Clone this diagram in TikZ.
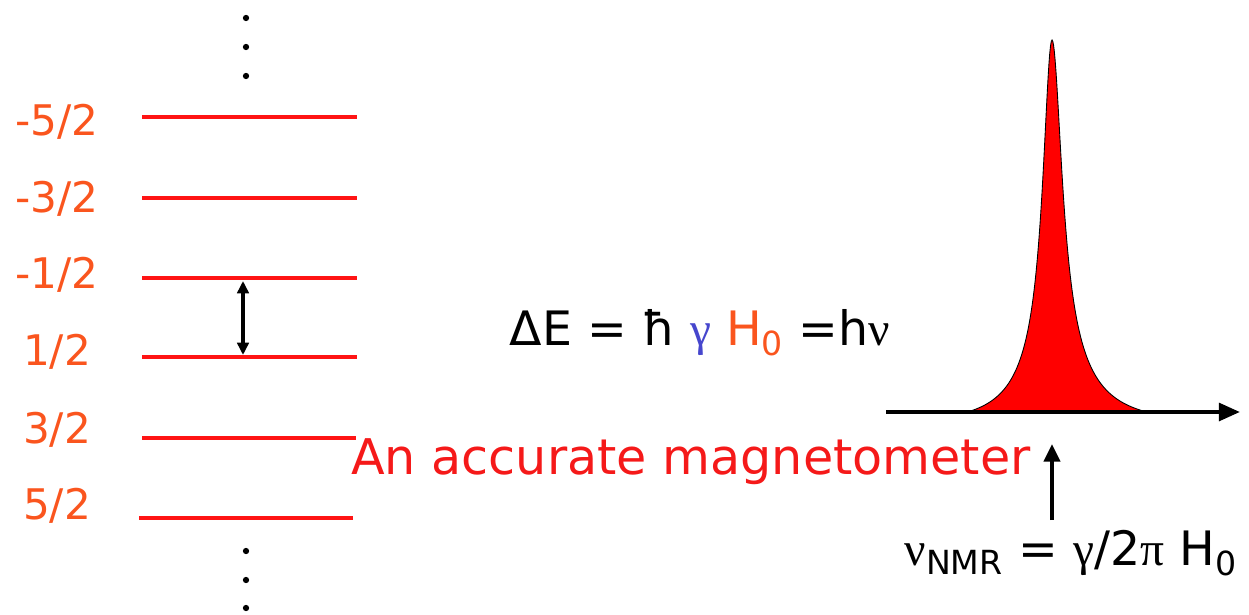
\documentclass[tikz,border=0pt]{standalone}
\usepackage{fontspec}
\setmainfont{DejaVu Sans}
\newfontfamily\grk{Liberation Serif}
\usepackage{tikz}
\usetikzlibrary{arrows.meta,positioning,calc}
\definecolor{levelred}{RGB}{255,20,20}
\definecolor{spinorange}{RGB}{250,85,30}
\definecolor{gammablue}{RGB}{70,70,205}
\definecolor{notered}{RGB}{245,25,25}
\tikzset{
  level/.style={draw=levelred, line width=2.8pt},
  spinlab/.style={text=spinorange, font=\fontsize{24}{27}\selectfont, inner sep=0pt},
  vdot/.style={circle, fill=black, minimum size=3.6pt, inner sep=0pt},
  eqn/.style={font=\fontsize{27}{30}\selectfont, inner sep=0pt},
}

\begin{document}
\begin{tikzpicture}[x=0.02cm, y=-0.02cm]
  % spin levels of the nucleus and its NMR line
  \useasboundingbox (0,0) rectangle (1249,615);

  \node[vdot] (dt1) at (246,18) {};
  \node[vdot] (dt2) at (246,47) {};
  \node[vdot] (dt3) at (246,76) {};
  \node[vdot] (db1) at (246,551) {};
  \node[vdot] (db2) at (246,580) {};
  \node[vdot] (db3) at (246,608) {};

  \node[spinlab] (m52) at (57,122) {-5/2};
  \node[spinlab] (m32) at (57,199) {-3/2};
  \node[spinlab] (m12) at (57,275) {-1/2};
  \node[spinlab] (p12) at (57,352) {1/2};
  \node[spinlab] (p32) at (57,430) {3/2};
  \node[spinlab] (p52) at (57,506) {5/2};

  \coordinate (lv1w) at (142,117); \coordinate (lv1e) at (357,117);
  \coordinate (lv2w) at (142,198); \coordinate (lv2e) at (357,198);
  \coordinate (lv3w) at (142,278); \coordinate (lv3e) at (357,278);
  \coordinate (lv4w) at (142,357); \coordinate (lv4e) at (357,357);
  \coordinate (lv5w) at (142,438); \coordinate (lv5e) at (356,438);
  \coordinate (lv6w) at (139,518); \coordinate (lv6e) at (353,518);
  \draw[level] (lv1w) -- (lv1e);
  \draw[level] (lv2w) -- (lv2e);
  \draw[level] (lv3w) -- (lv3e);
  \draw[level] (lv4w) -- (lv4e);
  \draw[level] (lv5w) -- (lv5e);
  \draw[level] (lv6w) -- (lv6e);

  \coordinate (gapT) at (243,281);
  \coordinate (gapB) at (243,355);
  \draw[line width=2pt, {Triangle[length=7pt,width=6.5pt]}-{Triangle[length=7pt,width=6.5pt]}] (gapT) -- (gapB);

  \node[eqn] (dE) at (700,333) {ΔE = ħ {\color{gammablue}\grk γ} {\color{spinorange}H\textsubscript{0}} =h{\grk ν}};

  % the resonance line
  \fill[red, draw=black, line width=0.5pt]
    plot[domain=-86:96, samples=240]
      ({1052+\x}, {412-max(0,386*(0.85/(1+(\x/(1+0.12*(\x>0))/11)^2)+0.15/(1+(\x/(1+0.12*(\x>0))/35)^2)-0.036))}) -- cycle;
  \coordinate (ax0) at (886,412);
  \coordinate (ax1) at (1240,412);
  \draw[line width=2.3pt, -{Triangle[length=12pt,width=10pt]}] (ax0) -- (ax1);

  \node[eqn, font=\fontsize{28}{31}\selectfont, text=notered] (mag) at (691,462) {An accurate magnetometer};

  \coordinate (res0) at (1052,520);
  \coordinate (res1) at (1052,444);
  \draw[line width=2.3pt, -{Triangle[length=10pt,width=9pt]}] (res0) -- (res1);

  \node[eqn] (nu) at (1071,553) {{\grk ν}\textsubscript{NMR} = {\grk γ}/2{\grk π} H\textsubscript{0}};
\end{tikzpicture}
\end{document}
